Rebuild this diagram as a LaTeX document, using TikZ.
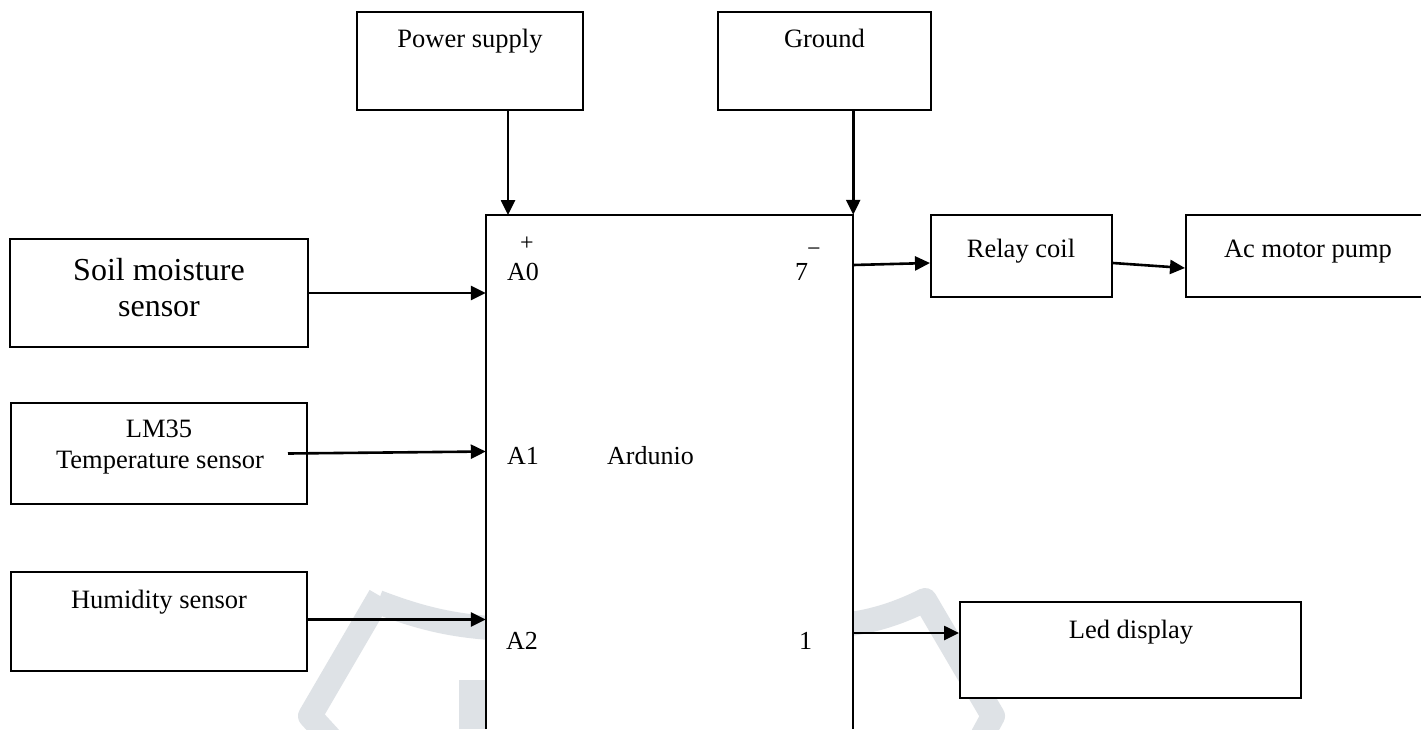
\documentclass[tikz,border=0pt]{standalone}
\usepackage{fontspec}
\setmainfont{Liberation Serif}
\usetikzlibrary{arrows.meta,calc}
\definecolor{wm}{RGB}{222,226,230}
\begin{document}
\begin{tikzpicture}[x=1pt,y=-1pt,
  box/.style={draw,line width=2pt,fill=white,inner sep=0pt,rectangle},
  txt/.style={font=\fontsize{26.5}{30}\selectfont,anchor=base,inner sep=0pt},
  bigtxt/.style={font=\fontsize{32}{36}\selectfont,anchor=base,inner sep=0pt},
  pin/.style={font=\fontsize{26}{30}\selectfont,anchor=base west,inner sep=0pt},
  arr/.style={line width=2.6pt,-{Triangle[length=15pt,width=14pt]}},
  wmark/.style={draw=wm,line width=24pt,line join=round},
]
\useasboundingbox[fill=white] (0,0) rectangle (1421,729);
% watermark (background)
\draw[wmark] (380,596) -- (310,716) -- (332,740);
\draw[wmark] (378,602) .. controls (420,618) and (450,625) .. (490,628);
\fill[wm] (459,680) rectangle (486,729);
\draw[wmark] (850,624) .. controls (880,620) and (905,610) .. (925,600) -- (993,716) -- (980,740);
% boxes
\node[box,minimum width=226pt,minimum height=98pt] (power) at (470,61) {};
\node[box,minimum width=213pt,minimum height=98pt] (ground) at (824.5,61) {};
\node[box,minimum width=298pt,minimum height=108pt] (soil) at (159,293) {};
\node[box,minimum width=296pt,minimum height=101pt] (lm) at (159,453.5) {};
\node[box,minimum width=296pt,minimum height=99pt] (hum) at (159,621.5) {};
\node[box,minimum width=181pt,minimum height=82pt] (relay) at (1021.5,256) {};
\node[box,minimum width=254pt,minimum height=82pt] (ac) at (1313,256) {};
\node[box,minimum width=341pt,minimum height=96pt] (led) at (1130.5,650) {};
\node[fill=white,inner sep=0pt,minimum width=367pt,minimum height=514pt] (ard) at (669.5,472) {};
\draw[line width=2pt] (ard.south west) -- (ard.north west) -- (ard.north east) -- (ard.south east);
% texts
\node[txt] (powerT) at (470,47) {Power supply};
\node[txt] (groundT) at (824.5,47) {Ground};
\node[bigtxt] (soilT1) at (159,280) {Soil moisture};
\node[bigtxt] (soilT2) at (159,316) {sensor};
\node[txt] (lmT1) at (159,437) {LM35};
\node[txt] (lmT2) at (160,468) {Temperature sensor};
\node[txt] (humT) at (159,608) {Humidity sensor};
\node[txt] (relayT) at (1021,257) {Relay coil};
\node[txt] (acT) at (1308,257) {Ac motor pump};
\node[txt] (ledT) at (1131,638) {Led display};
% arduino labels
\node[font=\fontsize{24}{28}\selectfont,inner sep=0pt] (plus) at (527,244) {+};
\node[pin] (a0) at (507,280) {A0};
\node[pin] (p7) at (795,280) {7};
\node[font=\fontsize{24}{28}\selectfont,inner sep=0pt] (minus) at (814,252) {−};
\node[pin] (a1) at (507,464) {A1};
\node[pin] (ardT) at (607,464) {Ardunio};
\node[pin] (a2) at (506,649) {A2};
\node[pin] (p1) at (799,649) {1};
% connectors
\coordinate (vin) at (508,215);
\draw[arr] (power.south -| vin) -- (vin);
\draw[arr] (ground.south -| ard.north east) -- (ard.north east);
\draw[arr] (soil.east) -- (soil.east -| ard.west);
\draw[arr] ($(lm.east)+(-20,0)$) -- ($(lm.east -| ard.west)+(0,-2)$);
\draw[arr] ($(hum.east)+(0,-2)$) -- ($(hum.east -| ard.west)+(0,-2)$);
\draw[arr] ($(ard.east |- relay.west)+(0,9)$) -- ($(relay.west)+(0,7)$);
\draw[arr] ($(relay.east)+(0,7)$) -- ($(ac.west)+(0,12)$);
\draw[arr] ($(ard.east |- led.west)+(0,-17)$) -- ($(led.west)+(0,-17)$);
\end{tikzpicture}
\end{document}
